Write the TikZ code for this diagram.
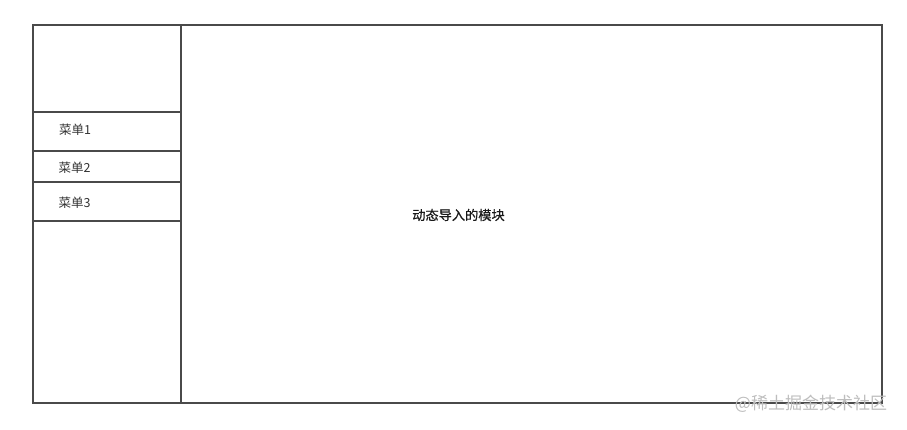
\documentclass[tikz,border=0pt]{standalone}
\usepackage{fontspec}
\setmainfont{Noto Sans CJK SC}
\newfontfamily\medfont[FakeBold=0.6]{Noto Sans CJK SC}
\definecolor{linegray}{HTML}{4A4A4A}
\definecolor{markgray}{HTML}{BDBDBD}
\begin{document}
\begin{tikzpicture}[x=1pt,y=-1pt,
    frame/.style={draw=linegray,line width=1.3pt},
    label/.style={font=\fontsize{12.5}{15}\selectfont,text=black!80,inner sep=0pt},
    watermark/.style={font=\fontsize{17}{20}\selectfont,text=markgray,inner sep=0pt}]
  \useasboundingbox (0,0) rectangle (907,429);
  % page frame and sidebar
  \draw[frame] (33,25) rectangle (882,403);
  \draw[frame] (181,25) -- (181,403);
  \foreach \y in {112,151,182,221}
    \draw[frame] (33,\y) -- (181,\y);
  % menu entries
  \node[label] (menu1) at (75,130) {菜单1};
  \node[label] (menu2) at (74.5,168) {菜单2};
  \node[label] (menu3) at (74.5,203) {菜单3};
  \node[label,text=black!90,font=\fontsize{13.2}{15}\selectfont\medfont] (module) at (458.5,215) {动态导入的模块};
  \node[watermark] (mark) at (811,404) {@稀土掘金技术社区};
\end{tikzpicture}
\end{document}
